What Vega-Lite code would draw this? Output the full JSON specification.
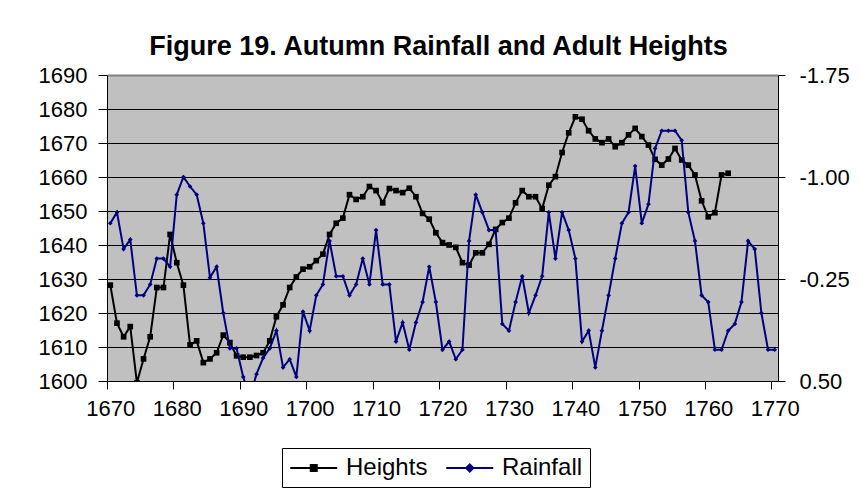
{
  "$schema": "https://vega.github.io/schema/vega-lite/v6.json",
  "width": 671,
  "height": 306,
  "autosize": {"type": "none"},
  "padding": {"left": 107, "top": 75, "right": 83, "bottom": 120},
  "background": "white",
  "title": {
    "text": "Figure 19. Autumn Rainfall and Adult Heights",
    "fontSize": 27,
    "fontWeight": "bold",
    "font": "Liberation Sans",
    "color": "black",
    "frame": "group",
    "anchor": "middle",
    "baseline": "alphabetic",
    "offset": 20,
    "dy": 38,
    "dx": -4
  },
  "datasets": {
    "heights": [
      {"year": 1670, "value": 1628.2}, {"year": 1671, "value": 1617.0}, {"year": 1672, "value": 1613.0},
      {"year": 1673, "value": 1616.0}, {"year": 1674, "value": 1599.5}, {"year": 1675, "value": 1606.5},
      {"year": 1676, "value": 1613.0}, {"year": 1677, "value": 1627.5}, {"year": 1678, "value": 1627.5},
      {"year": 1679, "value": 1643.1}, {"year": 1680, "value": 1634.8}, {"year": 1681, "value": 1628.2},
      {"year": 1682, "value": 1610.6}, {"year": 1683, "value": 1611.8}, {"year": 1684, "value": 1605.4},
      {"year": 1685, "value": 1606.5}, {"year": 1686, "value": 1608.3}, {"year": 1687, "value": 1613.5},
      {"year": 1688, "value": 1611.3}, {"year": 1689, "value": 1607.4}, {"year": 1690, "value": 1607.0},
      {"year": 1691, "value": 1607.0}, {"year": 1692, "value": 1607.5}, {"year": 1693, "value": 1608.3},
      {"year": 1694, "value": 1611.8}, {"year": 1695, "value": 1618.9}, {"year": 1696, "value": 1622.4},
      {"year": 1697, "value": 1627.5}, {"year": 1698, "value": 1630.6}, {"year": 1699, "value": 1632.9},
      {"year": 1700, "value": 1633.6}, {"year": 1701, "value": 1635.4}, {"year": 1702, "value": 1637.3},
      {"year": 1703, "value": 1643.1}, {"year": 1704, "value": 1646.4}, {"year": 1705, "value": 1647.9},
      {"year": 1706, "value": 1654.8}, {"year": 1707, "value": 1653.4}, {"year": 1708, "value": 1654.2},
      {"year": 1709, "value": 1657.2}, {"year": 1710, "value": 1656.0}, {"year": 1711, "value": 1652.4},
      {"year": 1712, "value": 1656.6}, {"year": 1713, "value": 1656.0}, {"year": 1714, "value": 1655.4},
      {"year": 1715, "value": 1656.7}, {"year": 1716, "value": 1654.2}, {"year": 1717, "value": 1649.3},
      {"year": 1718, "value": 1647.6}, {"year": 1719, "value": 1643.6}, {"year": 1720, "value": 1640.7},
      {"year": 1721, "value": 1640.0}, {"year": 1722, "value": 1639.3}, {"year": 1723, "value": 1634.8},
      {"year": 1724, "value": 1634.1}, {"year": 1725, "value": 1637.7}, {"year": 1726, "value": 1637.7},
      {"year": 1727, "value": 1640.2}, {"year": 1728, "value": 1644.6}, {"year": 1729, "value": 1646.6},
      {"year": 1730, "value": 1647.9}, {"year": 1731, "value": 1652.4}, {"year": 1732, "value": 1656.0},
      {"year": 1733, "value": 1654.2}, {"year": 1734, "value": 1654.2}, {"year": 1735, "value": 1650.7},
      {"year": 1736, "value": 1657.6}, {"year": 1737, "value": 1660.1}, {"year": 1738, "value": 1667.2},
      {"year": 1739, "value": 1673.0}, {"year": 1740, "value": 1677.7}, {"year": 1741, "value": 1677.0},
      {"year": 1742, "value": 1673.6}, {"year": 1743, "value": 1671.2}, {"year": 1744, "value": 1670.1},
      {"year": 1745, "value": 1671.2}, {"year": 1746, "value": 1668.9}, {"year": 1747, "value": 1670.1},
      {"year": 1748, "value": 1672.4}, {"year": 1749, "value": 1674.3}, {"year": 1750, "value": 1671.9},
      {"year": 1751, "value": 1669.4}, {"year": 1752, "value": 1665.2}, {"year": 1753, "value": 1663.5},
      {"year": 1754, "value": 1665.3}, {"year": 1755, "value": 1668.4}, {"year": 1756, "value": 1665.0},
      {"year": 1757, "value": 1663.5}, {"year": 1758, "value": 1660.6}, {"year": 1759, "value": 1653.0},
      {"year": 1760, "value": 1648.3}, {"year": 1761, "value": 1649.5}, {"year": 1762, "value": 1660.6},
      {"year": 1763, "value": 1661.1}
    ],
    "rainfall": [
      {"year": 1670, "value": -0.66}, {"year": 1671, "value": -0.74}, {"year": 1672, "value": -0.47},
      {"year": 1673, "value": -0.54}, {"year": 1674, "value": -0.13}, {"year": 1675, "value": -0.13},
      {"year": 1676, "value": -0.21}, {"year": 1677, "value": -0.40}, {"year": 1678, "value": -0.40},
      {"year": 1679, "value": -0.34}, {"year": 1680, "value": -0.87}, {"year": 1681, "value": -1.00},
      {"year": 1682, "value": -0.93}, {"year": 1683, "value": -0.87}, {"year": 1684, "value": -0.66},
      {"year": 1685, "value": -0.26}, {"year": 1686, "value": -0.34}, {"year": 1687, "value": 0.00},
      {"year": 1688, "value": 0.26}, {"year": 1689, "value": 0.26}, {"year": 1690, "value": 0.47},
      {"year": 1691, "value": 0.62}, {"year": 1692, "value": 0.45}, {"year": 1693, "value": 0.33},
      {"year": 1694, "value": 0.26}, {"year": 1695, "value": 0.13}, {"year": 1696, "value": 0.40},
      {"year": 1697, "value": 0.34}, {"year": 1698, "value": 0.47}, {"year": 1699, "value": -0.01},
      {"year": 1700, "value": 0.13}, {"year": 1701, "value": -0.13}, {"year": 1702, "value": -0.21},
      {"year": 1703, "value": -0.53}, {"year": 1704, "value": -0.27}, {"year": 1705, "value": -0.27},
      {"year": 1706, "value": -0.13}, {"year": 1707, "value": -0.21}, {"year": 1708, "value": -0.40},
      {"year": 1709, "value": -0.21}, {"year": 1710, "value": -0.61}, {"year": 1711, "value": -0.21},
      {"year": 1712, "value": -0.21}, {"year": 1713, "value": 0.21}, {"year": 1714, "value": 0.07},
      {"year": 1715, "value": 0.27}, {"year": 1716, "value": 0.07}, {"year": 1717, "value": -0.08},
      {"year": 1718, "value": -0.34}, {"year": 1719, "value": -0.08}, {"year": 1720, "value": 0.27},
      {"year": 1721, "value": 0.21}, {"year": 1722, "value": 0.34}, {"year": 1723, "value": 0.27},
      {"year": 1724, "value": -0.53}, {"year": 1725, "value": -0.87}, {"year": 1726, "value": -0.74},
      {"year": 1727, "value": -0.61}, {"year": 1728, "value": -0.61}, {"year": 1729, "value": 0.08},
      {"year": 1730, "value": 0.13}, {"year": 1731, "value": -0.08}, {"year": 1732, "value": -0.27},
      {"year": 1733, "value": 0.00}, {"year": 1734, "value": -0.13}, {"year": 1735, "value": -0.27},
      {"year": 1736, "value": -0.74}, {"year": 1737, "value": -0.40}, {"year": 1738, "value": -0.74},
      {"year": 1739, "value": -0.61}, {"year": 1740, "value": -0.40}, {"year": 1741, "value": 0.21},
      {"year": 1742, "value": 0.13}, {"year": 1743, "value": 0.40}, {"year": 1744, "value": 0.13},
      {"year": 1745, "value": -0.13}, {"year": 1746, "value": -0.40}, {"year": 1747, "value": -0.66},
      {"year": 1748, "value": -0.74}, {"year": 1749, "value": -1.08}, {"year": 1750, "value": -0.66},
      {"year": 1751, "value": -0.80}, {"year": 1752, "value": -1.21}, {"year": 1753, "value": -1.34},
      {"year": 1754, "value": -1.34}, {"year": 1755, "value": -1.34}, {"year": 1756, "value": -1.27},
      {"year": 1757, "value": -0.74}, {"year": 1758, "value": -0.53}, {"year": 1759, "value": -0.13},
      {"year": 1760, "value": -0.08}, {"year": 1761, "value": 0.27}, {"year": 1762, "value": 0.27},
      {"year": 1763, "value": 0.13}, {"year": 1764, "value": 0.08}, {"year": 1765, "value": -0.08},
      {"year": 1766, "value": -0.53}, {"year": 1767, "value": -0.47}, {"year": 1768, "value": 0.00},
      {"year": 1769, "value": 0.27}, {"year": 1770, "value": 0.27}
    ]
  },
  "layer": [
    {
      "data": {"name": "heights"},
      "encoding": {
        "x": {
          "field": "year",
          "type": "quantitative",
          "scale": {"domain": [1669.5, 1770.5], "nice": false, "zero": false},
          "axis": {
            "title": null,
            "values": [1670, 1675, 1680, 1685, 1690, 1695, 1700, 1705, 1710, 1715, 1720, 1725, 1730, 1735, 1740, 1745, 1750, 1755, 1760, 1765, 1770],
            "format": "d",
            "labelExpr": "datum.value % 10 === 0 ? datum.label : ''",
            "labelFlush": false,
            "labelOverlap": false,
            "grid": false,
            "tickSize": 8,
            "tickOffset": -3.3,
            "labelOffset": 3.3,
            "labelPadding": 9,
            "labelFontSize": 22
          }
        },
        "y": {
          "field": "value",
          "type": "quantitative",
          "scale": {"domain": [1600, 1690], "nice": false, "zero": false},
          "axis": {
            "orient": "left",
            "title": null,
            "format": "d",
            "values": [1600, 1610, 1620, 1630, 1640, 1650, 1660, 1670, 1680, 1690],
            "grid": true,
            "gridColor": {"condition": {"test": "datum.value === 1690", "value": "#808080"}, "value": "black"},
            "gridWidth": {"condition": {"test": "datum.value === 1690", "value": 2}, "value": 1},
            "tickSize": 9,
            "labelPadding": 11,
            "labelFontSize": 22
          }
        },
        "color": {
          "datum": "Heights",
          "type": "nominal",
          "scale": {"domain": ["Heights", "Rainfall"], "range": ["black", "#000080"]},
          "legend": {
            "title": null,
            "orient": "none",
            "legendX": 175,
            "legendY": 373,
            "direction": "horizontal",
            "strokeColor": "black",
            "fillColor": "white",
            "padding": 7,
            "labelFontSize": 24,
            "labelFont": "Liberation Sans",
            "labelColor": "black",
            "symbolSize": 552,
            "labelOffset": 31,
            "columnPadding": 14,
            "encode": {
              "symbols": {
                "update": {
                  "shape": {"signal": "datum.value === 'Heights' ? 'M-1,0H3M0.745,-0.255H1.255V0.255H0.745Z' : 'M-1,0H3M1,-0.3L1.3,0L1,0.3L0.7,0Z'"},
                  "fill": {"signal": "datum.value === 'Heights' ? 'black' : '#000080'"},
                  "stroke": {"signal": "datum.value === 'Heights' ? 'black' : '#000080'"},
                  "strokeWidth": {"value": 2},
                  "opacity": {"value": 1},
                  "fillOpacity": {"value": 1},
                  "strokeOpacity": {"value": 1}
                }
              }
            }
          }
        }
      },
      "layer": [
        {"mark": {"type": "line", "strokeWidth": 2, "clip": true}},
        {"mark": {"type": "point", "shape": "square", "filled": true, "size": 32, "opacity": 1, "clip": true}}
      ]
    },
    {
      "data": {"name": "rainfall"},
      "encoding": {
        "x": {"field": "year", "type": "quantitative"},
        "y": {
          "field": "value",
          "type": "quantitative",
          "scale": {"domain": [-1.75, 0.5], "reverse": true, "nice": false, "zero": false},
          "axis": {
            "orient": "right",
            "title": null,
            "values": [-1.75, -1.0, -0.25, 0.5],
            "labelExpr": "replace(format(datum.value, '.2f'), '\u2212', '-')",
            "grid": false,
            "tickSize": 7,
            "labelPadding": 14,
            "labelFontSize": 22
          }
        },
        "color": {"datum": "Rainfall", "type": "nominal"}
      },
      "layer": [
        {"mark": {"type": "line", "strokeWidth": 2, "clip": true}},
        {"mark": {"type": "point", "shape": "diamond", "filled": true, "size": 22, "opacity": 1, "clip": true}}
      ]
    }
  ],
  "resolve": {"scale": {"y": "independent"}},
  "config": {
    "font": "Liberation Sans",
    "view": {"fill": "#C0C0C0", "stroke": null},
    "axis": {
      "labelColor": "black",
      "labelFont": "Liberation Sans",
      "domainColor": "black",
      "domainWidth": 1,
      "tickColor": "black",
      "tickWidth": 1
    }
  }
}
